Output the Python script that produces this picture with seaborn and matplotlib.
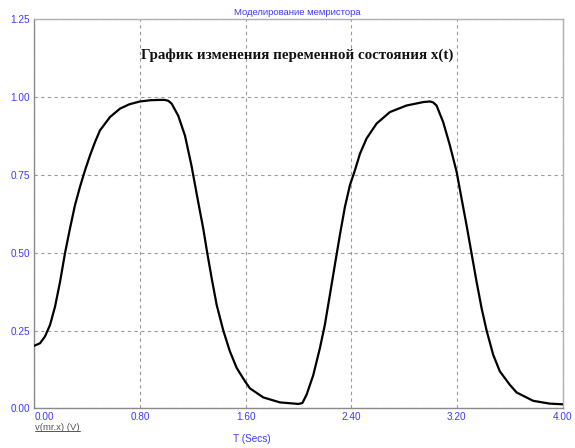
import matplotlib
matplotlib.use("Agg")
import matplotlib.pyplot as plt
from matplotlib.lines import Line2D
import seaborn as sns
import pandas as pd

# Memristor state variable x(t) over time
time_s = [0.000, 0.043, 0.081, 0.119, 0.157, 0.195, 0.232, 0.270, 0.308, 0.346,
          0.384, 0.422, 0.460, 0.497, 0.573, 0.649, 0.720, 0.800, 0.880, 0.950,
          0.989, 1.015, 1.040, 1.090, 1.141, 1.190, 1.241, 1.279, 1.310, 1.343,
          1.381, 1.431, 1.481, 1.532, 1.595, 1.633, 1.734, 1.860, 2.000, 2.030,
          2.062, 2.112, 2.163, 2.200, 2.238, 2.276, 2.314, 2.352, 2.390, 2.428,
          2.466, 2.516, 2.592, 2.693, 2.819, 2.945, 2.996, 3.020, 3.046, 3.096,
          3.147, 3.198, 3.235, 3.273, 3.311, 3.349, 3.387, 3.425, 3.475, 3.525,
          3.600, 3.652, 3.778, 3.904, 4.000]
state_x = [0.201, 0.209, 0.231, 0.268, 0.327, 0.407, 0.498, 0.578, 0.653, 0.712,
           0.765, 0.813, 0.856, 0.893, 0.936, 0.963, 0.977, 0.986, 0.990, 0.991,
           0.991, 0.988, 0.979, 0.940, 0.876, 0.780, 0.663, 0.578, 0.498, 0.418,
           0.332, 0.250, 0.183, 0.130, 0.087, 0.064, 0.035, 0.019, 0.014, 0.017,
           0.044, 0.106, 0.194, 0.268, 0.364, 0.461, 0.557, 0.647, 0.717, 0.765,
           0.818, 0.867, 0.915, 0.952, 0.973, 0.984, 0.986, 0.983, 0.973, 0.920,
           0.845, 0.760, 0.675, 0.589, 0.498, 0.407, 0.322, 0.250, 0.172, 0.119,
           0.076, 0.051, 0.024, 0.015, 0.013]

x_ticks = [0.0, 0.8, 1.6, 2.4, 3.2, 4.0]
x_tick_labels = ["0.00", "0.80", "1.60", "2.40", "3.20", "4.00"]
y_ticks = [0.0, 0.25, 0.5, 0.75, 1.0, 1.25]
y_tick_labels = ["0.00", "0.25", "0.50", "0.75", "1.00", "1.25"]

window_title = "Моделирование мемристора"
plot_title = "График изменения переменной состояния x(t)"
trace_name = "v(mr.x) (V)"
x_axis_name = "T (Secs)"

sns.set_style("white")
plt.rcParams["font.family"] = ["Liberation Sans", "DejaVu Sans"]

BLUE = "#3a3aff"

df = pd.DataFrame({"t": time_s, "x": state_x})

fig = plt.figure(figsize=(5.75, 4.48), dpi=100)
ax = fig.add_axes([0.0597, 0.0886, 0.9186, 0.8683])

sns.lineplot(data=df, x="t", y="x", ax=ax, color="black", linewidth=1.6,
             zorder=3, solid_joinstyle="round", solid_capstyle="round")

ax.set_xlim(0, 4.0)
ax.set_ylim(0, 1.25)
ax.set_xticks(x_ticks)
ax.set_yticks(y_ticks)
ax.set_xticklabels(x_tick_labels, color=BLUE, fontsize=7.2)
ax.set_yticklabels(y_tick_labels, color=BLUE, fontsize=7.2)
ax.get_xticklabels()[0].set_horizontalalignment("left")
ax.tick_params(axis="both", length=0, pad=3)
ax.set_xlabel("")
ax.set_ylabel("")

ax.grid(True, color="#9a9a9a", linestyle=(0, (3, 3)), linewidth=0.8, zorder=1)

for side in ["left", "bottom"]:
    ax.spines[side].set_color("#8a8a8a")
    ax.spines[side].set_linewidth(1.0)
for side in ["top", "right"]:
    ax.spines[side].set_color("#b0b0b0")
    ax.spines[side].set_linewidth(1.0)

fig.text(0.517, 0.971, window_title, color=BLUE, fontsize=6.8,
         ha="center", va="center")
ax.text(0.498, 0.907, plot_title, transform=ax.transAxes,
        family=["Liberation Serif", "DejaVu Serif"], fontweight="bold",
        fontsize=10.8, color="#111111", ha="center", va="center")

trace = fig.text(0.061, 0.045, trace_name, color="#555555", fontsize=6.8,
                 ha="left", va="center")
fig.text(0.405, 0.019, x_axis_name, color=BLUE, fontsize=7.2,
         ha="left", va="center")

# underline the trace name
fig.canvas.draw()
bb = trace.get_window_extent().transformed(fig.transFigure.inverted())
fig.add_artist(Line2D([bb.x0, bb.x1], [bb.y0 + 0.002, bb.y0 + 0.002],
                      transform=fig.transFigure, color="#555555", linewidth=0.7))

fig.savefig("out.png", dpi=100)
